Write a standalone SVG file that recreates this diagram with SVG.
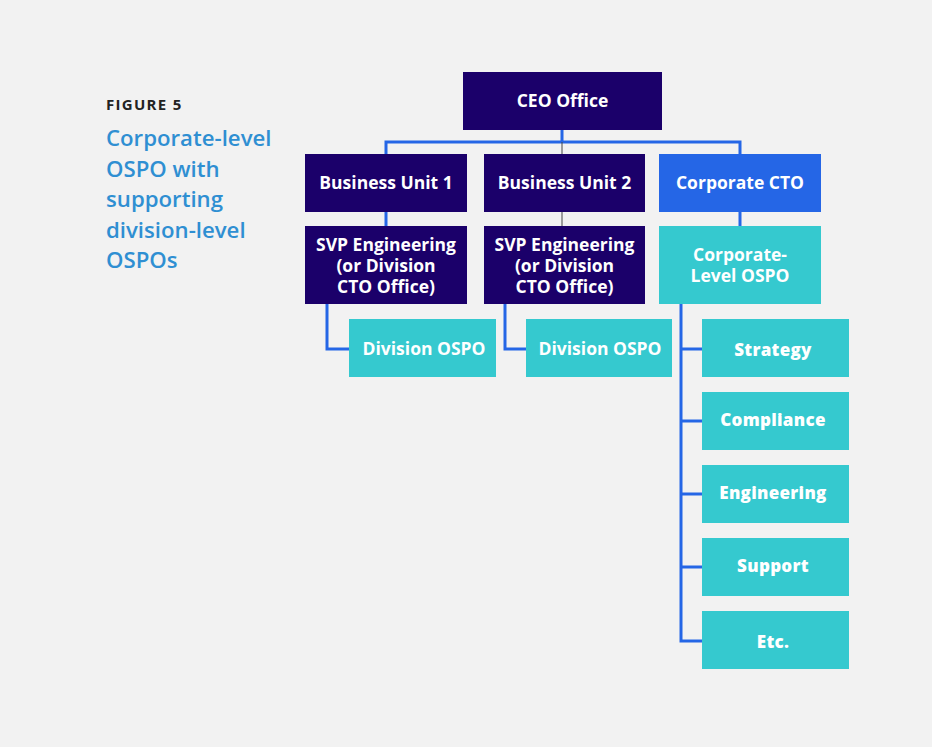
<svg xmlns="http://www.w3.org/2000/svg" width="932" height="747" viewBox="0 0 932 747">
<style>
.bg{fill:#f2f2f2}
.navy{fill:#1b006a}
.blue{fill:#2566e6}
.teal{fill:#35c9cf}
.t{font-family:"Open Sans","Liberation Sans",sans-serif;font-weight:700;font-size:17.5px;fill:#ffffff;text-anchor:middle}
.s{font-family:"Open Sans","Liberation Sans",sans-serif;font-weight:800;font-size:17px;fill:#ffffff;text-anchor:middle;letter-spacing:0.3px}
.fig{font-family:"Open Sans","Liberation Sans",sans-serif;font-weight:700;font-size:15px;fill:#222222;letter-spacing:1.3px}
.title{font-family:"Open Sans","Liberation Sans",sans-serif;font-weight:600;font-size:22.2px;fill:#2f8fd2}
.c{stroke:#2566e6;stroke-width:3;fill:none}
.thin{stroke:#444444;stroke-width:1;fill:none}
</style>
<rect class="bg" x="0" y="0" width="932" height="747"/>
<text class="fig" x="106" y="110">FIGURE 5</text>
<text class="title" x="106" y="146">Corporate-level</text>
<text class="title" x="106" y="177">OSPO with</text>
<text class="title" x="106" y="207">supporting</text>
<text class="title" x="106" y="238">division-level</text>
<text class="title" x="106" y="268">OSPOs</text>
<g id="connectors">
<path class="c" d="M562 130V142M386 154V142H740V154"/>
<path class="thin" d="M562 142V154M562 212V226"/>
<path class="c" d="M386 212V226M740 212V226"/>
<path class="c" d="M327 304V349H349"/>
<path class="c" d="M505 304V349H526"/>
<path class="c" d="M681 304V641H702M681 349H702M681 421H702M681 494H702M681 567H702"/>
</g>
<g id="ceo"><rect class="navy" x="463" y="72" width="199" height="58"/><text class="t" x="562.5" y="107">CEO Office</text></g>
<g id="bu1"><rect class="navy" x="305" y="154" width="162" height="58"/><text class="t" x="386" y="189">Business Unit 1</text></g>
<g id="bu2"><rect class="navy" x="484" y="154" width="161" height="58"/><text class="t" x="564.5" y="189">Business Unit 2</text></g>
<g id="cto"><rect class="blue" x="659" y="154" width="162" height="58"/><text class="t" x="740" y="189">Corporate CTO</text></g>
<g id="svp1"><rect class="navy" x="305" y="226" width="162" height="78"/><text class="t" x="386" y="251">SVP Engineering</text><text class="t" x="386" y="272">(or Division</text><text class="t" x="386" y="293">CTO Office)</text></g>
<g id="svp2"><rect class="navy" x="484" y="226" width="161" height="78"/><text class="t" x="564.5" y="251">SVP Engineering</text><text class="t" x="564.5" y="272">(or Division</text><text class="t" x="564.5" y="293">CTO Office)</text></g>
<g id="corp-ospo"><rect class="teal" x="659" y="226" width="162" height="78"/><text class="t" x="740" y="261">Corporate-</text><text class="t" x="740" y="282">Level OSPO</text></g>
<g id="div-ospo1"><rect class="teal" x="349" y="319" width="147" height="58"/><text class="t" x="424" y="355">Division OSPO</text></g>
<g id="div-ospo2"><rect class="teal" x="526" y="319" width="146" height="58"/><text class="t" x="600" y="355">Division OSPO</text></g>
<g id="strategy"><rect class="teal" x="702" y="319" width="147" height="58"/><text class="s" x="773" y="356">Strategy</text></g>
<g id="compliance"><rect class="teal" x="702" y="392" width="147" height="58"/><text class="s" x="773" y="426">Compliance</text></g>
<g id="engineering"><rect class="teal" x="702" y="465" width="147" height="58"/><text class="s" x="773" y="499">Engineering</text></g>
<g id="support"><rect class="teal" x="702" y="538" width="147" height="58"/><text class="s" x="773" y="572">Support</text></g>
<g id="etc"><rect class="teal" x="702" y="611" width="147" height="58"/><text class="s" x="773" y="648">Etc.</text></g>
</svg>
